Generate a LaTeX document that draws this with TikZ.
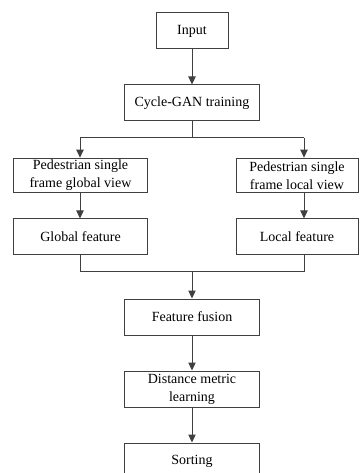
\documentclass[tikz,border=0pt]{standalone}
\usepackage{fontspec}
\setmainfont{Liberation Serif}
\usetikzlibrary{arrows.meta}
\begin{document}
\begin{tikzpicture}[x=0.75pt,y=-0.75pt,
  box/.style={draw=black!75,line width=0.75pt,fill=white,inner sep=0pt,align=center,
    font=\fontsize{10.5}{13.5}\selectfont,minimum height=27pt},
  conn/.style={draw=black!75,line width=0.75pt},
  arr/.style={conn,-{Triangle[width=5.5pt,length=6pt]}}]
\clip (0,0) rectangle (361,473);
\fill[white] (0,0) rectangle (361,473);
\node[box,minimum width=54pt] (in) at (192,31) {Input};
\node[box,minimum width=101pt] (cyc) at (192,103) {Cycle-GAN training};
\node[box,minimum width=101pt,minimum height=26pt] (gv) at (80.5,175.5) {Pedestrian single\\frame global view};
\node[box,minimum width=91.5pt,minimum height=26pt] (lv) at (297,175.5) {Pedestrian single\\frame local view};
\node[box,minimum width=101pt] (gf) at (80.5,237) {Global feature};
\node[box,minimum width=91.5pt] (lf) at (297,237) {Local feature};
\node[box,minimum width=101pt] (ff) at (192,317) {Feature fusion};
\node[box,minimum width=101pt] (dm) at (192,389) {Distance metric\\learning};
\node[box,minimum width=101pt] (so) at (192,461) {Sorting};
\coordinate (s1) at (192,138);
\coordinate (sl) at (80,138);
\coordinate (sr) at (304,138);
\coordinate (m1) at (192,271);
\coordinate (ml) at (80,271);
\coordinate (mr) at (304,271);
\draw[arr] (in.south) -- (cyc.north);
\draw[conn] (cyc.south) -- (s1);
\draw[conn] (sl) -- (sr);
\draw[arr] (sl) -- (sl |- gv.north);
\draw[arr] (sr) -- (sr |- lv.north);
\draw[arr] (sl |- gv.south) -- (sl |- gf.north);
\draw[arr] (sr |- lv.south) -- (sr |- lf.north);
\draw[conn] (sl |- gf.south) -- (ml) -- (mr) -- (sr |- lf.south);
\draw[arr] (m1) -- (ff.north);
\draw[arr] (ff.south) -- (dm.north);
\draw[arr] (dm.south) -- (so.north);
\end{tikzpicture}
\end{document}
